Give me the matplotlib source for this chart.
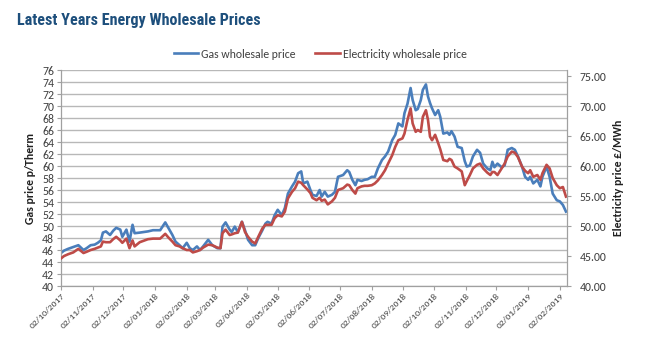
import matplotlib
matplotlib.use("Agg")
import matplotlib.pyplot as plt
import matplotlib.dates as mdates
from matplotlib.ticker import MultipleLocator, FormatStrFormatter
import pandas as pd

plt.rcParams['font.family'] = ['Carlito', 'Lato', 'DejaVu Sans']

# Wholesale price observations
dates = [
    "2017-10-02", "2017-10-05", "2017-10-09", "2017-10-14", "2017-10-19", "2017-10-24",
    "2017-10-27", "2017-10-31", "2017-11-04", "2017-11-07", "2017-11-10", "2017-11-12",
    "2017-11-15", "2017-11-19", "2017-11-22", "2017-11-25", "2017-11-29", "2017-12-01",
    "2017-12-05", "2017-12-08", "2017-12-11", "2017-12-13", "2017-12-18", "2017-12-26",
    "2017-12-31", "2018-01-07", "2018-01-12", "2018-01-15", "2018-01-19", "2018-01-22",
    "2018-01-26", "2018-01-29", "2018-02-02", "2018-02-05", "2018-02-08", "2018-02-12",
    "2018-02-15", "2018-02-18", "2018-02-23", "2018-02-27", "2018-03-04", "2018-03-07",
    "2018-03-09", "2018-03-12", "2018-03-16", "2018-03-18", "2018-03-21", "2018-03-24",
    "2018-03-28", "2018-03-31", "2018-04-03", "2018-04-07", "2018-04-10", "2018-04-13",
    "2018-04-17", "2018-04-20", "2018-04-22", "2018-04-26", "2018-04-29", "2018-05-02",
    "2018-05-06", "2018-05-09", "2018-05-12", "2018-05-16", "2018-05-19", "2018-05-22",
    "2018-05-25", "2018-05-27", "2018-05-31", "2018-06-03", "2018-06-05", "2018-06-09",
    "2018-06-12", "2018-06-14", "2018-06-17", "2018-06-20", "2018-06-24", "2018-06-27",
    "2018-06-30", "2018-07-05", "2018-07-09", "2018-07-11", "2018-07-14", "2018-07-17",
    "2018-07-19", "2018-07-23", "2018-07-26", "2018-07-29", "2018-08-02", "2018-08-05",
    "2018-08-08", "2018-08-12", "2018-08-15", "2018-08-18", "2018-08-22", "2018-08-25",
    "2018-08-28", "2018-09-01", "2018-09-03", "2018-09-06", "2018-09-09", "2018-09-11",
    "2018-09-14", "2018-09-16", "2018-09-19", "2018-09-21", "2018-09-24", "2018-09-26",
    "2018-09-28", "2018-09-30", "2018-10-03", "2018-10-06", "2018-10-08", "2018-10-11",
    "2018-10-15", "2018-10-17", "2018-10-19", "2018-10-22", "2018-10-25", "2018-10-29",
    "2018-11-01", "2018-11-03", "2018-11-06", "2018-11-09", "2018-11-13", "2018-11-16",
    "2018-11-19", "2018-11-23", "2018-11-26", "2018-11-28", "2018-11-30", "2018-12-03",
    "2018-12-07", "2018-12-10", "2018-12-13", "2018-12-17", "2018-12-20", "2018-12-23",
    "2018-12-27", "2018-12-30", "2019-01-02", "2019-01-04", "2019-01-07", "2019-01-11",
    "2019-01-14", "2019-01-16", "2019-01-20", "2019-01-23", "2019-01-26", "2019-01-30",
    "2019-02-02", "2019-02-05", "2019-02-08",
]

# Gas wholesale price, p/therm
gas_price = [
    45.5, 45.9, 46.2, 46.5, 46.8, 46.0, 46.3, 46.8, 46.9, 47.2, 47.6, 48.9,
    49.1, 48.5, 49.2, 49.7, 49.4, 48.2, 49.4, 47.4, 50.2, 48.8, 48.9, 49.1,
    49.3, 49.3, 50.6, 49.7, 48.5, 47.4, 46.8, 46.3, 47.2, 46.3, 46.0, 46.6,
    46.0, 46.6, 47.7, 46.8, 46.3, 46.3, 49.9, 50.6, 49.4, 49.0, 49.9, 49.0,
    50.7, 49.3, 47.7, 46.8, 46.8, 48.0, 49.3, 50.4, 50.7, 50.4, 51.8, 52.7,
    51.8, 53.0, 55.4, 56.6, 57.4, 58.8, 59.1, 57.1, 57.4, 56.0, 55.2, 55.0,
    56.0, 54.9, 55.7, 54.9, 55.2, 55.7, 58.2, 58.5, 59.3, 59.0, 57.7, 56.8,
    57.7, 57.5, 57.7, 57.8, 58.2, 58.2, 59.6, 61.0, 61.6, 62.4, 64.3, 65.2,
    67.1, 66.6, 68.8, 70.4, 73.0, 71.0, 69.3, 69.5, 71.0, 72.7, 73.6, 71.6,
    70.5, 69.6, 68.5, 69.3, 68.2, 65.4, 65.6, 65.2, 65.8, 64.9, 63.2, 63.0,
    60.8, 59.9, 60.1, 61.6, 62.7, 62.2, 60.4, 59.6, 59.3, 60.7, 59.8, 60.4,
    59.8, 60.1, 62.7, 63.0, 62.7, 61.6, 59.9, 58.2, 57.7, 58.2, 57.1, 57.7,
    56.6, 58.2, 59.9, 58.2, 55.4, 54.3, 54.1, 53.5, 52.4,
]

# Electricity wholesale price, GBP/MWh
elec_price = [
    44.6, 45.0, 45.3, 45.6, 46.2, 45.5, 45.7, 46.0, 46.2, 46.4, 46.6, 47.4,
    47.3, 47.3, 47.8, 48.2, 47.6, 47.2, 47.9, 46.3, 47.6, 46.6, 47.3, 47.8,
    47.9, 47.9, 48.7, 48.1, 47.4, 46.8, 46.6, 46.3, 46.0, 46.0, 45.6, 45.8,
    46.0, 46.4, 46.9, 46.8, 46.4, 46.3, 48.8, 49.4, 48.5, 48.6, 48.8, 48.9,
    50.7, 49.0, 48.2, 47.4, 47.1, 48.2, 49.6, 50.2, 50.2, 50.2, 51.3, 51.8,
    51.6, 52.4, 54.6, 55.7, 56.3, 57.4, 57.2, 56.8, 56.1, 55.5, 54.7, 54.3,
    54.7, 54.2, 54.4, 53.6, 54.1, 54.7, 56.0, 56.3, 56.9, 56.8, 56.0, 55.4,
    56.3, 56.6, 56.7, 56.7, 56.8, 57.1, 57.6, 58.5, 59.3, 60.4, 61.8, 63.2,
    64.3, 64.6, 65.4, 67.7, 69.6, 67.1, 65.7, 66.0, 65.7, 68.2, 69.3, 67.7,
    64.9, 64.3, 65.2, 63.8, 62.8, 61.0, 60.8, 61.2, 61.0, 59.9, 59.6, 59.1,
    56.8, 57.5, 58.5, 59.6, 60.2, 60.4, 59.6, 58.9, 58.5, 59.0, 59.0, 58.5,
    59.6, 60.4, 61.6, 62.4, 62.2, 61.5, 59.9, 59.2, 58.8, 59.3, 58.2, 58.5,
    57.7, 58.8, 60.2, 59.6, 58.0, 56.8, 56.3, 56.5, 54.9,
]

x_ticks = pd.date_range("2017-10-01", "2019-02-01", freq="MS") + pd.Timedelta(days=1)
x_start, x_end = pd.Timestamp("2017-10-02"), pd.Timestamp("2019-02-09")

title = "Latest Years Energy Wholesale Prices"
gas_label = "Gas wholesale price"
elec_label = "Electricity wholesale price"

gas_color = "#4a7ebb"
elec_color = "#be4b48"
grid_color = "#b8b8b8"
text_color = "#404040"

t = pd.to_datetime(dates)

fig = plt.figure(figsize=(6.71, 3.42), dpi=100)
ax = fig.add_axes([0.0909, 0.1637, 0.7541, 0.6316])
ax2 = ax.twinx()

g_line, = ax.plot(t, gas_price, color=gas_color, lw=1.9, solid_joinstyle="round")
e_line, = ax2.plot(t, elec_price, color=elec_color, lw=1.9, solid_joinstyle="round")

ax.set_ylim(40, 76)
ax2.set_ylim(40, 76)
ax.yaxis.set_major_locator(MultipleLocator(2))
ax2.set_yticks([40, 45, 50, 55, 60, 65, 70, 75])
ax2.yaxis.set_major_formatter(FormatStrFormatter("%.2f"))
ax.set_xlim(x_start, x_end)
ax.set_xticks(x_ticks)
ax.xaxis.set_major_formatter(mdates.DateFormatter("%d/%m/%Y"))

ax.grid(axis="y", color=grid_color, lw=1.0)
ax.set_axisbelow(True)

for a in (ax, ax2):
    for side in ("left", "right", "bottom", "top"):
        a.spines[side].set_visible(False)
ax.spines["left"].set_visible(True)
ax.spines["bottom"].set_visible(True)
ax2.spines["right"].set_visible(True)
for sp in (ax.spines["left"], ax.spines["bottom"], ax2.spines["right"]):
    sp.set_color("#a0a0a0")
    sp.set_linewidth(0.9)

ax.tick_params(axis="y", direction="out", length=3, color="#a0a0a0",
               labelsize=8.5, labelcolor=text_color, pad=2)
ax2.tick_params(axis="y", direction="out", length=3, color="#a0a0a0",
                labelsize=8.5, labelcolor=text_color, pad=6)
ax.tick_params(axis="x", direction="out", length=3, color="#a0a0a0",
               labelsize=6.8, labelcolor=text_color, pad=1)
for lbl in ax.get_xticklabels():
    lbl.set_rotation(45)
    lbl.set_ha("right")
    lbl.set_rotation_mode("anchor")

ax.set_ylabel("Gas price p/Therm", fontsize=8.5, fontweight="bold",
              color="#202020", labelpad=4)
ax2.set_ylabel("Electricity price £/MWh", fontsize=8.5, fontweight="bold",
               color="#202020", labelpad=5)

fig.text(0.026, 0.94, title, fontsize=11.6, fontweight="bold",
         color="#1d4f7c", family=["Roboto Condensed", "Roboto"],
         stretch="condensed", va="center", ha="left")

fig.legend([g_line, e_line], [gas_label, elec_label], loc="center",
           bbox_to_anchor=(0.477, 0.842), ncol=2, frameon=False,
           fontsize=8.5, handlelength=2.1, handletextpad=0.2,
           columnspacing=1.7, labelcolor=text_color)

fig.savefig("out.png", dpi=100, facecolor="white")
